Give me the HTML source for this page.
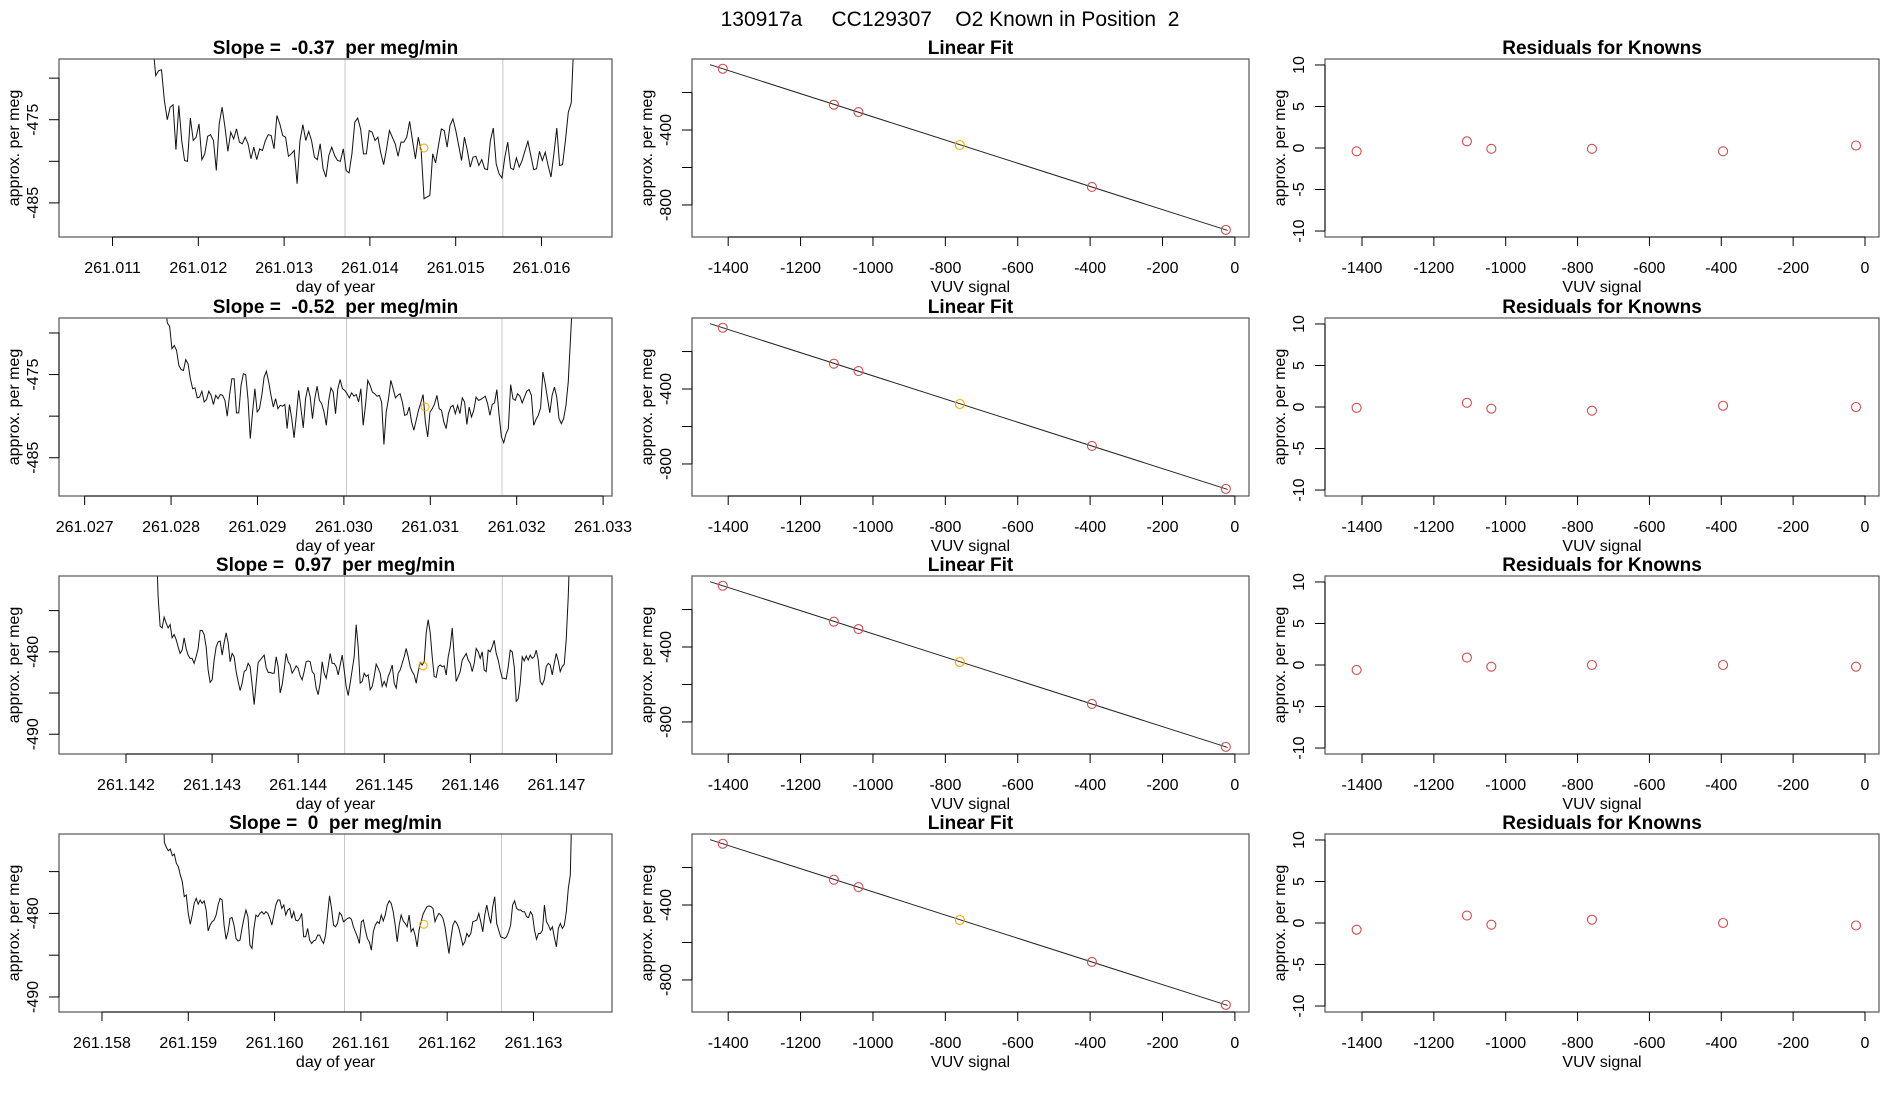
<!DOCTYPE html>
<html><head><meta charset="utf-8">
<style>
html,body{margin:0;padding:0;background:#fff;}
svg{display:block;font-family:"Liberation Sans",Arial,sans-serif;}
</style></head>
<body>
<svg id="chart" width="1900" height="1100" viewBox="0 0 1900 1100" xmlns="http://www.w3.org/2000/svg">
<rect width="1900" height="1100" fill="#fff"/>
<text x="950" y="26" font-size="21" text-anchor="middle" style="white-space:pre">130917a     CC129307    O2 Known in Position  2</text>
</svg>
<script>
// ---------- data ----------
const tsTitles = ["Slope =  -0.37  per meg/min","Slope =  -0.52  per meg/min","Slope =  0.97  per meg/min","Slope =  0  per meg/min"];
const tsStart = [261.01147, 261.02793, 261.14235, 261.15870];
const tsEnd = [261.01638, 261.03265, 261.14716, 261.16345];
const tsXlimLo = [261.010376, 261.026703, 261.141222, 261.157502];
const tsXlimHi = [261.016822, 261.033103, 261.147645, 261.163910];
const tsYlimLo = [-489.1, -489.6, -492.4, -491.8];
const tsYlimHi = [-467.7, -468.2, -470.8, -470.5];
const tsXTicks = [
 [261.011,261.012,261.013,261.014,261.015,261.016],
 [261.027,261.028,261.029,261.030,261.031,261.032,261.033],
 [261.142,261.143,261.144,261.145,261.146,261.147],
 [261.158,261.159,261.160,261.161,261.162,261.163]];
const tsYTicks = [[-485,-480,-475,-470],[-485,-480,-475,-470],[-490,-485,-480,-475],[-490,-485,-480,-475]];
const tsYLabels = [[-485,-475],[-485,-475],[-490,-480],[-490,-480]];
const tsVLines = [[261.01371,261.01555],[261.03003,261.03183],[261.14454,261.14637],[261.16081,261.16263]];
const tsMarkDay = [261.01463, 261.03094, 261.14545, 261.16173];
const tsMarkVal = [-478.4, -478.9, -481.7, -481.3];

const series1 = [-466,-469.7,-469.1,-469.0,-472.7,-475.0,-473.5,-473.2,-478.6,-473.3,-477.5,-479.9,-480.0,-474.8,-477.5,-477.1,-475.5,-479.8,-479.1,-477.0,-476.8,-477.5,-481.1,-475.5,-473.5,-475.9,-478.8,-476.5,-477.3,-476.1,-477.7,-477.9,-477.1,-477.9,-479.7,-478.3,-479.8,-478.5,-478.7,-477.5,-476.8,-476.9,-478.5,-474.5,-475.5,-476.9,-477.1,-479.4,-479.1,-478.7,-482.7,-477.5,-475.6,-477.5,-476.4,-477.5,-479.5,-479.8,-477.9,-480.9,-481.9,-479.3,-478.3,-479.3,-479.9,-480.0,-478.5,-481.1,-481.4,-479.1,-475.3,-474.8,-476.1,-479.1,-479.1,-476.3,-476.5,-477.5,-477.1,-479.0,-480.4,-478.5,-476.3,-477.1,-477.9,-479.4,-477.7,-477.7,-477.1,-475.2,-477.5,-479.7,-477.1,-478.7,-484.5,-484.3,-484.1,-479.1,-480.2,-478.1,-476.1,-476.3,-478.3,-475.7,-474.9,-476.3,-478.1,-479.9,-477.1,-478.7,-480.7,-479.5,-479.4,-480.5,-479.8,-480.9,-481.0,-477.5,-476.0,-480.3,-481.5,-482.0,-479.5,-477.7,-480.8,-481.0,-479.6,-480.7,-479.9,-478.7,-477.6,-479.3,-481.0,-480.9,-478.8,-479.9,-478.9,-480.5,-481.9,-479.1,-476.0,-480.5,-480.4,-477.5,-474.1,-473.0,-465];
const series2 = [-466,-468.8,-469.2,-471.9,-471.5,-472.1,-473.9,-474.4,-474.5,-473.2,-473.7,-475.5,-476.7,-476.6,-477.8,-477.7,-477.0,-478.3,-478.0,-477.0,-477.5,-478.6,-477.5,-477.9,-477.4,-477.5,-478.1,-480.0,-477.5,-475.5,-475.5,-479.6,-479.6,-476.3,-474.9,-475.0,-477.9,-482.7,-479.5,-476.7,-479.5,-479.1,-477.5,-475.3,-474.6,-475.9,-477.5,-478.9,-477.9,-479.1,-478.7,-478.8,-478.6,-481.5,-478.6,-480.3,-482.6,-479.9,-476.9,-479.1,-481.4,-477.9,-476.5,-477.7,-480.3,-477.9,-476.4,-478.1,-478.5,-479.5,-481.1,-478.2,-476.6,-477.1,-479.7,-476.7,-475.6,-476.7,-476.9,-477.3,-477.8,-477.2,-477.6,-477.4,-478.3,-476.7,-481.1,-478.7,-475.7,-476.3,-477.1,-477.3,-477.6,-477.5,-478.3,-483.4,-479.5,-477.9,-475.7,-476.7,-477.8,-477.5,-477.3,-478.3,-479.9,-479.8,-478.9,-480.7,-481.7,-480.5,-479.3,-478.4,-477.4,-480.7,-482.5,-479.5,-479.1,-478.5,-477.5,-479.1,-479.3,-480.7,-481.5,-479.7,-478.9,-478.7,-479.7,-478.7,-479.7,-477.8,-478.3,-481.0,-478.9,-480.1,-479.3,-477.7,-478.1,-478.0,-477.8,-477.6,-478.5,-479.9,-478.6,-478.4,-476.8,-479.9,-482.5,-483.2,-482.1,-481.5,-476.2,-477.9,-478.1,-477.3,-477.6,-478.4,-477.7,-477.0,-476.8,-477.5,-481.1,-480.4,-479.9,-479.0,-474.7,-476.1,-477.9,-479.6,-477.5,-476.5,-477.7,-480.3,-480.9,-480.3,-478.7,-475.9,-470.6,-465];
const series3 = [-466,-473.3,-476.9,-477.1,-475.8,-476.5,-477.1,-476.7,-478.3,-477.9,-478.5,-479.4,-480.2,-479.8,-478.3,-479.6,-480.4,-480.8,-480.8,-481.4,-480.6,-479.6,-477.4,-477.4,-477.9,-479.4,-482.2,-483.7,-483.4,-481.0,-479.4,-478.8,-478.7,-480.4,-478.9,-477.7,-478.9,-481.2,-480.2,-480.6,-482.4,-483.6,-484.7,-483.8,-482.4,-482.2,-481.4,-481.8,-484.0,-486.4,-483.8,-481.3,-481.0,-480.7,-480.4,-481.9,-482.5,-482.5,-482.6,-482.6,-480.6,-481.8,-485.0,-484.0,-482.2,-480.2,-481.2,-481.6,-482.6,-482.2,-481.7,-482.0,-482.9,-483.4,-482.4,-481.2,-481.1,-481.2,-482.4,-482.7,-484.4,-485.2,-483.8,-481.2,-482.6,-483.2,-481.8,-480.2,-481.4,-481.4,-481.8,-482.8,-481.6,-480.4,-482.2,-484.2,-485.3,-483.8,-482.2,-480.6,-476.7,-479.4,-483.8,-483.6,-482.6,-483.0,-482.8,-484.6,-484.2,-483.0,-481.5,-482.0,-482.6,-484.2,-483.6,-484.2,-483.0,-482.4,-481.6,-483.8,-484.4,-482.6,-482.2,-481.4,-480.6,-479.6,-480.6,-481.8,-482.4,-482.8,-483.8,-482.4,-481.3,-481.6,-481.2,-477.7,-476.1,-477.7,-480.6,-483.0,-483.1,-481.8,-481.6,-481.8,-481.7,-482.8,-480.6,-479.4,-477.1,-480.6,-483.6,-483.0,-482.4,-481.0,-480.6,-480.2,-481.0,-481.4,-482.4,-481.4,-479.6,-480.0,-480.8,-480.0,-482.2,-482.4,-479.8,-480.0,-479.4,-478.6,-480.2,-481.0,-482.2,-483.2,-483.2,-483.3,-481.8,-479.8,-480.0,-481.8,-486.0,-485.7,-483.8,-480.6,-481.1,-480.5,-481.0,-480.4,-480.8,-480.6,-479.8,-481.0,-483.6,-484.0,-483.4,-481.8,-481.4,-481.6,-482.8,-481.4,-480.2,-481.1,-482.4,-481.8,-481.5,-478.5,-473.3,-466];
const series4 = [-466,-471.5,-472.1,-472.5,-472.3,-473.1,-472.9,-474.0,-474.4,-475.4,-476.2,-478.0,-477.8,-480.0,-481.3,-480.2,-478.8,-478.2,-478.9,-478.4,-478.8,-478.5,-479.6,-482.1,-481.4,-481.0,-480.8,-480.2,-479.0,-478.2,-478.4,-481.4,-483.1,-482.2,-480.6,-480.5,-481.4,-483.0,-483.3,-483.2,-481.8,-480.6,-479.6,-480.4,-483.8,-484.2,-481.8,-480.2,-480.4,-480.0,-479.8,-480.1,-479.8,-480.0,-480.6,-481.4,-480.2,-479.0,-478.4,-478.4,-479.4,-479.0,-480.2,-479.6,-479.4,-480.6,-479.8,-480.8,-480.9,-480.6,-480.0,-482.8,-482.8,-481.8,-483.2,-483.6,-483.3,-483.2,-482.6,-482.6,-483.2,-483.6,-482.6,-480.2,-477.9,-479.4,-481.4,-481.6,-481.2,-479.9,-480.2,-481.0,-480.8,-480.6,-480.5,-480.7,-481.6,-482.2,-482.8,-483.6,-481.0,-480.8,-482.0,-483.0,-483.4,-484.4,-482.2,-481.4,-481.0,-481.2,-480.2,-480.9,-480.2,-479.0,-478.5,-478.8,-479.8,-481.4,-483.4,-481.4,-480.2,-480.9,-481.2,-481.6,-480.2,-482.2,-481.8,-482.6,-484.0,-482.0,-481.0,-480.1,-479.6,-479.2,-479.1,-479.2,-479.4,-481.0,-480.4,-480.0,-480.2,-480.6,-481.6,-483.2,-484.8,-483.0,-481.4,-480.9,-481.2,-481.8,-482.8,-483.8,-483.4,-482.4,-482.8,-482.4,-481.0,-480.9,-480.8,-480.0,-481.0,-482.2,-480.2,-479.0,-480.2,-481.2,-479.2,-478.0,-481.2,-482.0,-482.8,-482.9,-483.0,-482.8,-482.2,-481.4,-479.0,-478.5,-479.4,-479.6,-479.6,-479.8,-479.8,-480.4,-480.5,-479.8,-480.2,-482.0,-483.1,-482.4,-482.4,-482.0,-479.0,-481.0,-481.4,-482.0,-481.6,-482.9,-484.0,-481.8,-481.2,-481.8,-481.4,-479.8,-477.0,-475.4,-465];
const tsSeries = [series1, series2, series3, series4];

const vuvSignal = [-1415,-1108,-1040,-760,-395,-25];
const fitValues = [-73,-265,-304,-480,-704,-933];
const fitLineX = [-1450,-20];
const fitYTicks = [-800,-600,-400,-200];
const fitYLabels = [-800,-400];
const vuvTicks = [-1400,-1200,-1000,-800,-600,-400,-200,0];
const resid1 = [-0.4,0.8,-0.1,-0.1,-0.4,0.3];
const resid2 = [-0.1,0.5,-0.2,-0.45,0.15,0.0];
const resid3 = [-0.6,0.9,-0.2,0.0,0.0,-0.2];
const resid4 = [-0.8,0.9,-0.2,0.4,0.0,-0.3];
const residSeries = [resid1, resid2, resid3, resid4];
const residTicks = [-10,-5,0,5,10];

// ---------- layout ----------
const NS = "http://www.w3.org/2000/svg";
const svg = document.getElementById("chart");
const rowTop = [59, 318, 576, 834];
const plotH = 178;
const colL = [59, 692, 1325];
const colR = [612, 1249, 1879];

function mk(tag, attrs, parent) {
  const e = document.createElementNS(NS, tag);
  for (const k in attrs) e.setAttribute(k, attrs[k]);
  (parent || svg).appendChild(e);
  return e;
}
function scale(d0, d1, r0, r1) { return v => r0 + (v - d0) / (d1 - d0) * (r1 - r0); }

function axes(g, x0, x1, top, bot, sx, sy, xt, yt, ylabs, xtitle, ytitle, title, fmtX) {
  const ax = mk("g", {}, g);
  
  
  mk("line", {x1: sx(xt[0]), x2: sx(xt[xt.length-1]), y1: bot, y2: bot, stroke: "#000", "stroke-width": 1}, ax);
  xt.forEach(t => {
    mk("line", {x1: sx(t), x2: sx(t), y1: bot, y2: bot + 9, stroke: "#000", "stroke-width": 1}, ax);
    const tx = mk("text", {x: sx(t), y: bot + 36, "font-size": 16, "text-anchor": "middle"}, ax);
    
    
    tx.textContent = fmtX(t);
  });
  mk("line", {x1: x0, x2: x0, y1: sy(yt[0]), y2: sy(yt[yt.length-1]), stroke: "#000", "stroke-width": 1}, ax);
  yt.forEach(t => {
    mk("line", {x1: x0 - 10, x2: x0, y1: sy(t), y2: sy(t), stroke: "#000", "stroke-width": 1}, ax);
  });
  ylabs.forEach(t => {
    const tx = mk("text", {x: 0, y: 0, "font-size": 16, "text-anchor": "middle", transform: `translate(${x0 - 21},${sy(t)}) rotate(-90)`}, ax);
    
    
    tx.textContent = String(t);
  });
  const xtl = mk("text", {x: (x0 + x1) / 2, y: bot + 55, "font-size": 16, "text-anchor": "middle"}, ax);
  
  
  xtl.textContent = xtitle;
  const ytl = mk("text", {x: 0, y: 0, "font-size": 16, "text-anchor": "middle", transform: `translate(${x0 - 40},${(top + bot) / 2}) rotate(-90)`}, ax);
  
  
  ytl.textContent = ytitle;
  const tt = mk("text", {x: (x0 + x1) / 2, y: top - 5, "font-size": 19, "font-weight": "bold", "text-anchor": "middle", style: "white-space:pre"}, ax);
  
  
  tt.textContent = title;
}

function box(g, x0, x1, top, bot) {
  const b = mk("rect", {x: x0, y: top, width: x1 - x0, height: bot - top, fill: "none", stroke: "#555", "stroke-width": 1.2}, g);
  
  
}

for (let r = 0; r < 4; r++) {
  const top = rowTop[r], bot = top + plotH;
  {
    const x0 = colL[0], x1 = colR[0];
    const g = mk("g", {});
    
    
    const sx = scale(tsXlimLo[r], tsXlimHi[r], x0, x1);
    const sy = scale(tsYlimLo[r], tsYlimHi[r], bot, top);
    const cp = mk("clipPath", {id: "clip" + r}, g);
    mk("rect", {x: x0, y: top, width: x1 - x0, height: bot - top}, cp);
    tsVLines[r].forEach(d => {
      const l = mk("line", {x1: sx(d), x2: sx(d), y1: top, y2: bot, stroke: "#c8c8c8", "stroke-width": 1}, g);
      
      
    });
    const vals = tsSeries[r];
    const n = vals.length;
    const pts = vals.map((v, i) => {
      const d = tsStart[r] + (tsEnd[r] - tsStart[r]) * i / (n - 1);
      return sx(d).toFixed(2) + "," + sy(v).toFixed(2);
    }).join(" ");
    const pl = mk("polyline", {points: pts, fill: "none", stroke: "#111", "stroke-width": 1, "clip-path": `url(#clip${r})`}, g);
    
    
    const c = mk("circle", {cx: sx(tsMarkDay[r]), cy: sy(tsMarkVal[r]), r: 4, fill: "none", stroke: "#ffa500", "stroke-width": 1}, g);
    
    
    box(g, x0, x1, top, bot);
    axes(g, x0, x1, top, bot, sx, sy, tsXTicks[r], tsYTicks[r], tsYLabels[r], "day of year", "approx. per meg", tsTitles[r], t => t.toFixed(3));
  }
  {
    const x0 = colL[1], x1 = colR[1];
    const g = mk("g", {});
    
    
    const sx = scale(-1500, 39, x0, x1);
    const sy = scale(-971, -21, bot, top);
    const slope = (fitValues[5] - fitValues[0]) / (vuvSignal[5] - vuvSignal[0]);
    const icpt = fitValues[0] - slope * vuvSignal[0];
    const fl = mk("line", {x1: sx(fitLineX[0]), y1: sy(icpt + slope * fitLineX[0]), x2: sx(fitLineX[1]), y2: sy(icpt + slope * fitLineX[1]), stroke: "#222", "stroke-width": 1}, g);
    
    
    vuvSignal.forEach((v, i) => {
      const c = mk("circle", {cx: sx(v), cy: sy(fitValues[i]), r: 4.5, fill: "none", stroke: i === 3 ? "#ffa500" : "#cd4f4f", "stroke-width": 1.1}, g);
      
      
    });
    box(g, x0, x1, top, bot);
    axes(g, x0, x1, top, bot, sx, sy, vuvTicks, fitYTicks, fitYLabels, "VUV signal", "approx. per meg", "Linear Fit", t => String(t));
  }
  {
    const x0 = colL[2], x1 = colR[2];
    const g = mk("g", {});
    
    
    const sx = scale(-1503, 39, x0, x1);
    const sy = scale(-10.72, 10.72, bot, top);
    residSeries[r].forEach((v, i) => {
      const c = mk("circle", {cx: sx(vuvSignal[i]), cy: sy(v), r: 4.5, fill: "none", stroke: "#cd4f4f", "stroke-width": 1.1}, g);
      
      
    });
    box(g, x0, x1, top, bot);
    axes(g, x0, x1, top, bot, sx, sy, vuvTicks, residTicks, residTicks, "VUV signal", "approx. per meg", "Residuals for Knowns", t => String(t));
  }
}
</script>
</body></html>
